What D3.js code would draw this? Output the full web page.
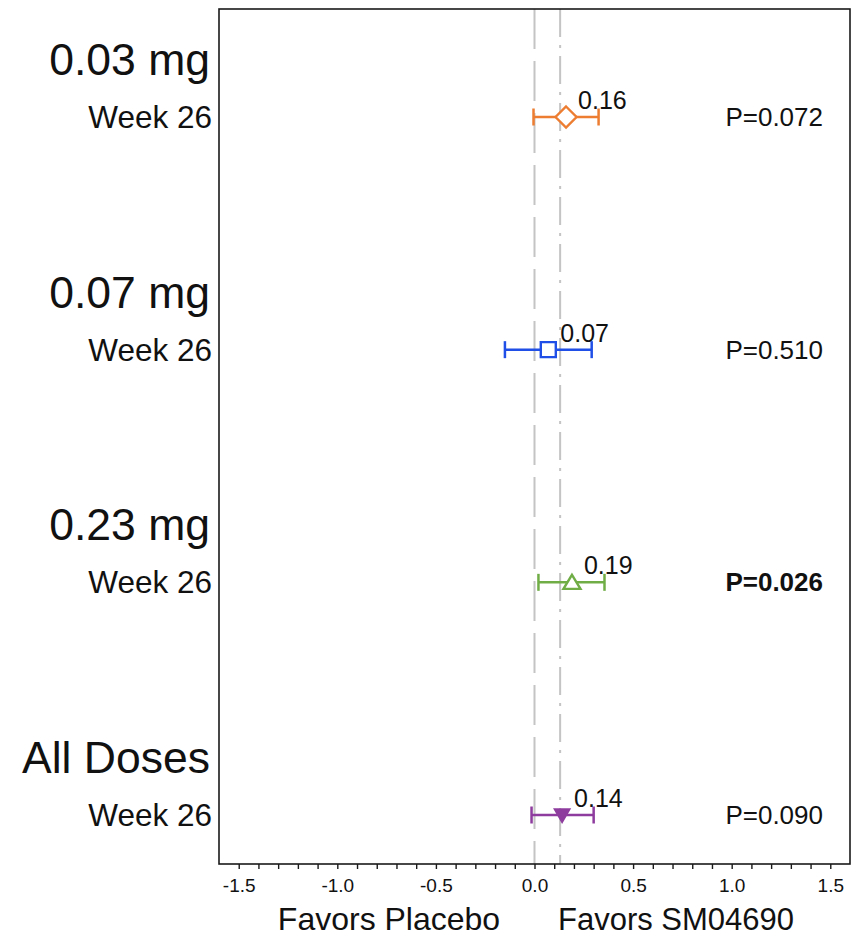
<!DOCTYPE html>
<html>
<head>
<meta charset="utf-8">
<script src="https://cdnjs.cloudflare.com/ajax/libs/d3/7.8.5/d3.min.js"></script>
<style>
  html, body { margin: 0; padding: 0; background: #fff; }
  svg { display: block; font-family: "Liberation Sans", Arial, Helvetica, sans-serif; }
</style>
</head>
<body>
<svg id="chart" width="854" height="936"></svg>
<script>
// Forest plot: treatment difference vs placebo at week 26, by dose group
const groups    = ["0.03 mg", "0.07 mg", "0.23 mg", "All Doses"];
const timepoint = ["Week 26", "Week 26", "Week 26", "Week 26"];
const estimates = [0.16, 0.07, 0.19, 0.14];
const lowerCI   = [-0.005, -0.15, 0.02, -0.015];
const upperCI   = [0.325, 0.29, 0.355, 0.30];
const pValues   = ["P=0.072", "P=0.510", "P=0.026", "P=0.090"];
const pBold     = [false, false, true, false];
const colors    = ["#ED7D31", "#1F4FE6", "#70AD47", "#8E3C9E"];
const symbols   = ["diamond", "square", "triangle", "triangleDown"];
const refLines  = [0, 0.13];
const xDomain   = [-1.6, 1.6];
const majorTicks = [-1.5, -1.0, -0.5, 0.0, 0.5, 1.0, 1.5];
const minorTicks = d3.range(-15, 16).map(i => i / 10);
const axisTitles = ["Favors Placebo", "Favors SM04690"];

const svg = d3.select("#chart");
const box = { left: 219, right: 850, top: 9, bottom: 864 };

const x = d3.scaleLinear().domain(xDomain).range([box.left, box.right]);
const y = d3.scalePoint().domain(groups).range([117, 815]);

const rows = groups.map((g, i) => ({
  group: g, time: timepoint[i], est: estimates[i], lo: lowerCI[i], hi: upperCI[i],
  p: pValues[i], bold: pBold[i], color: colors[i], sym: symbols[i]
}));

// reference lines: zero (dashed) and pooled effect (dash-dot)
svg.append("line")
  .attr("x1", x(refLines[0])).attr("x2", x(refLines[0]))
  .attr("y1", box.top).attr("y2", box.bottom)
  .attr("stroke", "#c4c4c4").attr("stroke-width", 2)
  .attr("stroke-dasharray", "40,12");
svg.append("line")
  .attr("x1", x(refLines[1])).attr("x2", x(refLines[1]))
  .attr("y1", box.top).attr("y2", box.bottom)
  .attr("stroke", "#c4c4c4").attr("stroke-width", 2)
  .attr("stroke-dasharray", "28,8,3,8");

// plot frame
svg.append("rect")
  .attr("x", box.left).attr("y", box.top)
  .attr("width", box.right - box.left).attr("height", box.bottom - box.top)
  .attr("fill", "none").attr("stroke", "#1a1a1a").attr("stroke-width", 1.6);

// x axis: minor ticks every 0.1, labels every 0.5 (plain hyphen for negatives)
const fmt = d3.format(".1f");
const axis = d3.axisBottom(x)
  .tickValues(minorTicks)
  .tickSize(5)
  .tickFormat(d => majorTicks.some(m => Math.abs(m - d) < 1e-9) ? fmt(d).replace("\u2212", "-") : "");
const gx = svg.append("g").attr("transform", `translate(0,${box.bottom})`).call(axis);
gx.select(".domain").remove();
gx.selectAll(".tick line").attr("stroke", "#1a1a1a").attr("stroke-width", 1.4);
gx.selectAll(".tick text")
  .attr("y", 15).attr("dy", "0.71em")
  .attr("font-size", 19).attr("fill", "#111")
  .attr("font-family", "'Liberation Sans', Arial, sans-serif");

svg.append("text").attr("x", 389).attr("y", 930)
  .attr("text-anchor", "middle").attr("font-size", 32).attr("fill", "#111")
  .text(axisTitles[0]);
svg.append("text").attr("x", 676).attr("y", 930)
  .attr("text-anchor", "middle").attr("font-size", 31).attr("fill", "#111")
  .text(axisTitles[1]);

// row labels
const labels = svg.append("g");
labels.selectAll("text.grp").data(rows).join("text")
  .attr("class", "grp")
  .attr("x", 210).attr("y", d => y(d.group) - 42)
  .attr("text-anchor", "end").attr("font-size", 44.5).attr("fill", "#111")
  .text(d => d.group);
labels.selectAll("text.time").data(rows).join("text")
  .attr("class", "time")
  .attr("x", 212).attr("y", d => y(d.group) + 11)
  .attr("text-anchor", "end").attr("font-size", 31.5).attr("fill", "#111")
  .text(d => d.time);

// confidence intervals
const ci = svg.append("g");
rows.forEach(d => {
  const cy = y(d.group);
  const g = ci.append("g").attr("stroke", d.color).attr("stroke-width", 2.5).attr("fill", "none");
  g.append("line").attr("x1", x(d.lo)).attr("x2", x(d.hi)).attr("y1", cy).attr("y2", cy);
  g.append("line").attr("x1", x(d.lo)).attr("x2", x(d.lo)).attr("y1", cy - 8.5).attr("y2", cy + 8.5);
  g.append("line").attr("x1", x(d.hi)).attr("x2", x(d.hi)).attr("y1", cy - 8.5).attr("y2", cy + 8.5);
});

// point estimate markers
function markerPath(sym) {
  switch (sym) {
    case "diamond": return "M0,-10.5L10.5,0L0,10.5L-10.5,0Z";
    case "square": return "M-7.5,-7.5H7.5V7.5H-7.5Z";
    case "triangle": return "M0,-7.5L8.5,6.5H-8.5Z";
    case "triangleDown": return "M-7,-5.5H7L0,6.5Z";
  }
}
svg.append("g").selectAll("path").data(rows).join("path")
  .attr("transform", d => `translate(${x(d.est)},${y(d.group)})`)
  .attr("d", d => markerPath(d.sym))
  .attr("fill", d => d.sym === "triangleDown" ? d.color : "#fff")
  .attr("stroke", d => d.color).attr("stroke-width", 2.4);

// estimate values
svg.append("g").selectAll("text").data(rows).join("text")
  .attr("x", d => x(d.est) + 12).attr("y", d => y(d.group) - 8)
  .attr("font-size", 25).attr("fill", "#111")
  .text(d => d3.format(".2f")(d.est));

// p-values
svg.append("g").selectAll("text").data(rows).join("text")
  .attr("x", 823).attr("y", d => y(d.group) + 9)
  .attr("text-anchor", "end").attr("font-size", 26).attr("fill", "#111")
  .attr("font-weight", d => d.bold ? "bold" : "normal")
  .text(d => d.p);
</script>
</body>
</html>
